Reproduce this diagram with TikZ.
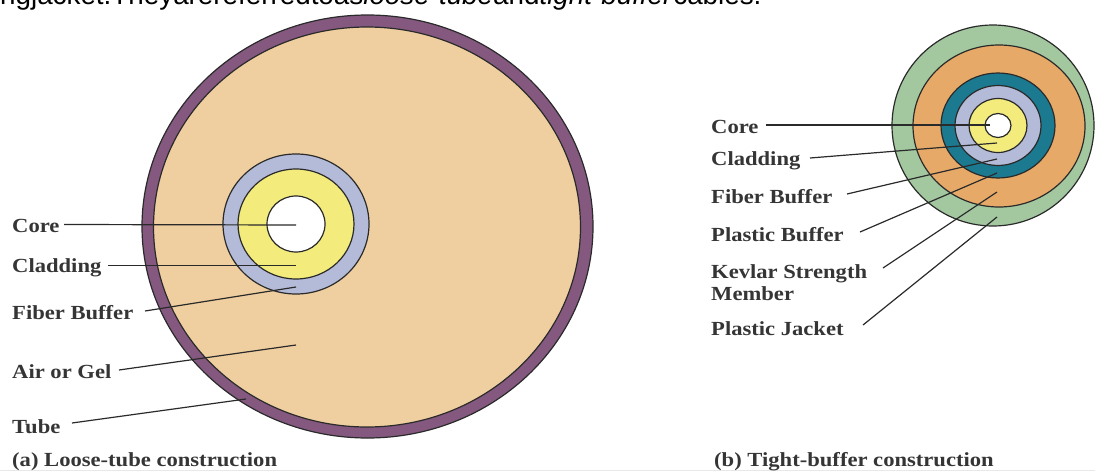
\documentclass[tikz,border=0pt]{standalone}
\usepackage{fontspec}
\setmainfont[FakeStretch=1.13]{Liberation Serif}
\newfontfamily\headfont{Liberation Sans}
\definecolor{purp}{HTML}{84587F}
\definecolor{tan1}{HTML}{EFCF9F}
\definecolor{grayblue}{HTML}{B4BBD8}
\definecolor{yell}{HTML}{F3EC7C}
\definecolor{teal1}{HTML}{1B7A90}
\definecolor{orng}{HTML}{E6A968}
\definecolor{grn}{HTML}{A3C8A0}
\definecolor{ink}{HTML}{2A2A2A}
\tikzset{
  ring/.style={draw=ink,line width=1.2pt},
  lab/.style={anchor=west,inner sep=0pt,font=\fontsize{20}{22}\selectfont\bfseries,text=ink!95},
  lead/.style={draw=ink,line width=1.2pt}
}
\begin{document}
\begin{tikzpicture}[x=1pt,y=-1pt]
\useasboundingbox (0,0) rectangle (1095,471);
% heading
\node[anchor=base west,inner sep=0pt,font=\headfont\fontsize{27.8}{30}\selectfont] (head) at (0,5) {ngjacket.Theyarereferredtoas\textit{loose-tube}and\textit{tight-buffer}cables.};
\draw[black!9,line width=0.8pt] (0,470) -- (1095,470);
% left
\draw[ring,fill=purp] (367.5,226.5) ellipse (225.5 and 211.5);
\draw[ring,fill=tan1] (367,227) ellipse (213.5 and 200);
\draw[ring,fill=grayblue] (296,224) ellipse (73 and 70);
\draw[ring,fill=yell] (296,224) ellipse (58 and 55);
\draw[ring,fill=white] (296,224) ellipse (29 and 28);
\node[lab] (c1) at (12,226) {Core};
\node[lab] (c2) at (12,268) {Cladding};
\node[lab] (c3) at (12,313) {Fiber Buffer};
\node[lab] (c4) at (12,372) {Air or Gel};
\node[lab] (c5) at (12,427) {Tube};
\node[lab] (ca) at (12,462) {(a) Loose-tube construction};
\coordinate (t1) at (296,225);\coordinate (t2) at (296,265.5);\coordinate (t3) at (296,287);\coordinate (t4) at (296,345);\coordinate (t5) at (246,399);
\draw[lead] (64,224.5) -- (t1);
\draw[lead] (108,265.5) -- (t2);
\draw[lead] (145,311) -- (t3);
\draw[lead] (119,370) -- (t4);
\draw[lead] (72,423) -- (t5);
% right
\draw[ring,fill=grn] (993,125.5) ellipse (101 and 100.5);
\draw[ring,fill=orng] (999,126) ellipse (86 and 81);
\draw[ring,fill=teal1] (998,125.5) ellipse (57 and 52.5);
\draw[ring,fill=grayblue] (998,125.5) ellipse (43 and 40);
\draw[ring,fill=yell] (998,125.5) ellipse (29 and 27);
\draw[ring,fill=white] (998,125.5) ellipse (13 and 12);
\node[lab] (r1) at (711,127) {Core};
\node[lab] (r2) at (711,161) {Cladding};
\node[lab] (r3) at (711,197) {Fiber Buffer};
\node[lab] (r4) at (711,235) {Plastic Buffer};
\node[lab,align=left] (r5) at (711,283) {Kevlar Strength\\Member};
\node[lab] (r6) at (711,329) {Plastic Jacket};
\node[lab] (cb) at (714,462) {(b) Tight-buffer construction};
\coordinate (e1) at (990,125);\coordinate (e2) at (997,143);\coordinate (e3) at (997,159);\coordinate (e4) at (997,173);\coordinate (e5) at (997,192);\coordinate (e6) at (997,217);
\draw[lead] (766,125) -- (e1);
\draw[lead] (810,158) -- (e2);
\draw[lead] (847,194) -- (e3);
\draw[lead] (860,232) -- (e4);
\draw[lead] (883,268) -- (e5);
\draw[lead] (863,325) -- (e6);
\end{tikzpicture}
\end{document}
